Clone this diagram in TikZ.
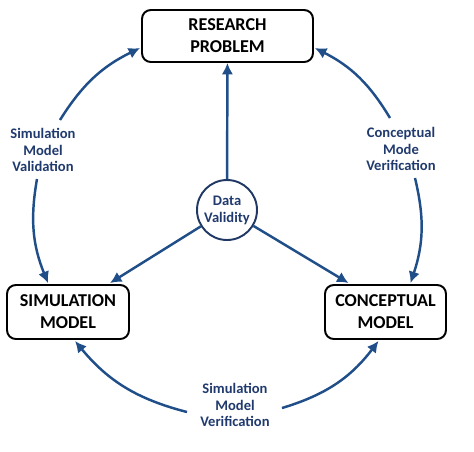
\documentclass[tikz,border=0pt]{standalone}
\usepackage{fontspec}
\setmainfont{Carlito}
\usetikzlibrary{arrows.meta,calc}
\definecolor{navy}{HTML}{1F3864}
\definecolor{arrowblue}{HTML}{1F4E89}
\definecolor{labelblue}{HTML}{203A6E}
\begin{document}
\begin{tikzpicture}[x=0.02cm,y=-0.02cm,
  box/.style={draw=black,line width=1.1pt,rounded corners=5pt,fill=white,align=center,
    font=\fontsize{10.3}{12.5}\selectfont\bfseries,inner sep=0pt},
  lbl/.style={align=center,text=labelblue,font=\fontsize{8.3}{9.6}\selectfont\bfseries},
  conn/.style={draw=arrowblue,line width=1.4pt,-{Latex[length=6.5pt,width=6.5pt]}}]
\useasboundingbox (0,0) rectangle (474,451);
\node[box,minimum width=3.42cm,minimum height=1.04cm] (rp) at (227.5,36) {RESEARCH\\PROBLEM};
\node[box,minimum width=2.44cm,minimum height=1.08cm] (sm) at (68,312) {SIMULATION\\MODEL};
\node[box,minimum width=2.42cm,minimum height=1.08cm] (cm) at (385.5,312) {CONCEPTUAL\\MODEL};
\node[draw=navy,line width=1.1pt,circle,minimum size=1.2cm,inner sep=0pt,lbl] (dv) at (227,210) {Data\\Validity};
\node[lbl] (l1) at (43,150) {Simulation\\Model\\Validation};
\node[lbl] (l2) at (401,149) {Conceptual\\Mode\\Verification};
\node[lbl] (l3) at (235,405) {Simulation\\Model\\Verification};
% arc start points
\coordinate (a1) at (60,120);
\coordinate (a2) at (37,179);
\coordinate (a3) at (390,118);
\coordinate (a4) at (415,178);
\coordinate (a5) at (187,412);
\coordinate (a6) at (282,408);
% arcs
\draw[conn] (a1) to[bend left=16] ($(rp.west)+(-1,12)$);
\draw[conn] (a2) to[bend right=16] ($(sm.north)+(-20,-1)$);
\draw[conn] (a3) to[bend right=16] ($(rp.east)+(1,12)$);
\draw[conn] (a4) to[bend left=16] ($(cm.north)+(25,-1)$);
\draw[conn] (a5) to[bend left=18] ($(sm.south)+(7,1)$);
\draw[conn] (a6) to[bend right=18] ($(cm.south)+(-7,1)$);
% spokes
\draw[conn] (dv) -- (rp);
\draw[conn] (dv) -- ($(sm.north)+(42,-1)$);
\draw[conn] (dv) -- ($(cm.north)+(-37,-1)$);
\end{tikzpicture}
\end{document}
